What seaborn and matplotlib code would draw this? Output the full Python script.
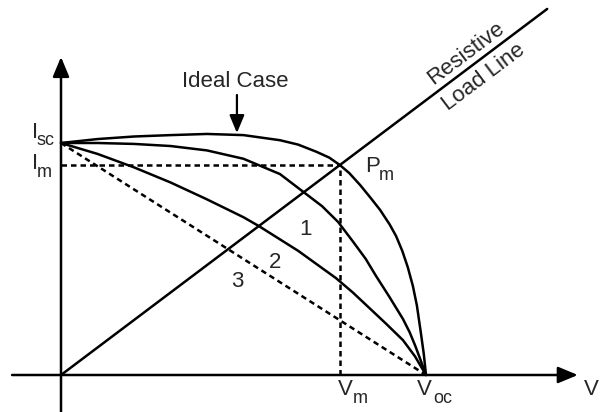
import math
import matplotlib
matplotlib.use("Agg")
import matplotlib.pyplot as plt
import seaborn as sns

# Normalized I-V characteristics (Isc = Voc = 1)
isc = 1.0
voc = 1.0
v_m = 0.764
i_m = 0.905

v_ideal = [0.00, 0.10, 0.20, 0.30, 0.40, 0.50, 0.60, 0.65, 0.70, 0.735, 0.764,
           0.79, 0.82, 0.85, 0.874, 0.90, 0.918, 0.935, 0.950, 0.964, 0.975,
           0.986, 0.994, 1.000]
i_ideal = [1.000, 1.017, 1.028, 1.034, 1.039, 1.034, 1.012, 0.993, 0.962, 0.937,
           0.905, 0.870, 0.818, 0.760, 0.712, 0.650, 0.599, 0.535, 0.465, 0.384,
           0.300, 0.181, 0.090, 0.000]

v_curve1 = [0.00, 0.10, 0.20, 0.30, 0.40, 0.50, 0.60, 0.665, 0.715, 0.759, 0.80,
            0.835, 0.863, 0.90, 0.937, 0.955, 0.970, 0.985, 1.000]
i_curve1 = [1.000, 1.000, 0.996, 0.987, 0.968, 0.932, 0.866, 0.788, 0.728, 0.660,
            0.575, 0.500, 0.427, 0.336, 0.241, 0.185, 0.128, 0.065, 0.000]

v_curve2 = [0.00, 0.10, 0.20, 0.30, 0.40, 0.50, 0.542, 0.65, 0.753, 0.80, 0.844,
            0.89, 0.937, 0.970, 1.000]
i_curve2 = [1.000, 0.953, 0.895, 0.830, 0.757, 0.680, 0.642, 0.535, 0.418, 0.355,
            0.290, 0.222, 0.150, 0.080, 0.000]

load_line_end = 1.332
curve_labels = ["1", "2", "3"]
curve_label_pos = [(0.671, 0.603), (0.586, 0.461), (0.482, 0.379)]

sns.set_theme(style="white")
plt.rcParams["font.family"] = ["Liberation Sans", "DejaVu Sans"]

fig = plt.figure(figsize=(6, 4.12), dpi=100)
ax = fig.add_axes([0, 0, 1, 1])
ax.set_xlim(-61 / 365, 539 / 365)
ax.set_ylim(-37 / 232, 375 / 232)
ax.set_axis_off()

lw = 1.8
dash = (0, (2.2, 1.6))

# Axes with arrow heads
head = dict(arrowstyle="-|>,head_length=0.6,head_width=0.25", color="black",
            lw=1.8, mutation_scale=20, shrinkA=0, shrinkB=0)
ax.annotate("", xy=(1.416, 0), xytext=(-0.134, 0), arrowprops=head)
ax.annotate("", xy=(0, 1.371), xytext=(0, -0.17), arrowprops=head)

# I-V curves
for v, i in [(v_ideal, i_ideal), (v_curve1, i_curve1), (v_curve2, i_curve2)]:
    sns.lineplot(x=v, y=i, sort=False, estimator=None, color="black", lw=lw,
                 ax=ax)

# Linear (curve 3) characteristic
ax.plot([0, voc], [isc, 0], color="black", lw=lw, linestyle=dash)

# Resistive load line through the maximum power point
slope = i_m / v_m
sns.lineplot(x=[0, load_line_end], y=[0, load_line_end * slope], sort=False,
             estimator=None, color="black", lw=lw, ax=ax)

# Maximum power point guides
ax.plot([0, v_m], [i_m, i_m], color="black", lw=lw, linestyle=dash)
ax.plot([v_m, v_m], [0, i_m], color="black", lw=lw, linestyle=dash)

fs = 16
fs_sub = 13


def sub_label(x, y, main, sub, x_sub, y_sub):
    ax.text(x, y, main, fontsize=fs, ha="left", va="baseline")
    ax.text(x_sub, y_sub, sub, fontsize=fs_sub, ha="left", va="baseline")


sub_label(-0.0795, 1.0216, "I", "sc", -0.0658, 0.991)
sub_label(-0.0795, 0.888, "I", "m", -0.0658, 0.853)
sub_label(0.759, -0.086, "V", "m", 0.800, -0.121)
sub_label(0.975, -0.086, "V", "oc", 1.019, -0.121)
sub_label(0.833, 0.875, "P", "m", 0.871, 0.841)
ax.text(1.432, -0.086, "V", fontsize=fs, ha="left", va="baseline")

for lab, (x, y) in zip(curve_labels, curve_label_pos):
    ax.text(x, y, lab, fontsize=fs, ha="center", va="baseline")

# Ideal case callout
ax.text(0.477, 1.241, "Ideal Case", fontsize=fs, ha="center", va="baseline")
ax.annotate("", xy=(0.482, 1.043), xytext=(0.482, 1.207),
            arrowprops=dict(arrowstyle="-|>,head_length=0.6,head_width=0.25",
                            color="black", lw=1.6, mutation_scale=18,
                            shrinkA=0, shrinkB=0))

# Load line caption, rotated along the line
p0 = ax.transData.transform((0, 0))
p1 = ax.transData.transform((1, slope))
ang = math.degrees(math.atan2(p1[1] - p0[1], p1[0] - p0[0]))
nx, ny = -math.sin(math.radians(ang)), math.cos(math.radians(ang))
xc = 0.849 * load_line_end
yc = xc * slope
off_up = 5.8
off_dn = 4.3
ax.annotate("Resistive", xy=(xc, yc), xytext=(nx * off_up, ny * off_up),
            textcoords="offset points", rotation=ang, rotation_mode="anchor",
            ha="center", va="baseline", fontsize=fs)
ax.annotate("Load Line", xy=(xc, yc), xytext=(-nx * off_dn, -ny * off_dn),
            textcoords="offset points", rotation=ang, rotation_mode="anchor",
            ha="center", va="top", fontsize=fs)

fig.savefig("out.png", dpi=100, facecolor="white")
